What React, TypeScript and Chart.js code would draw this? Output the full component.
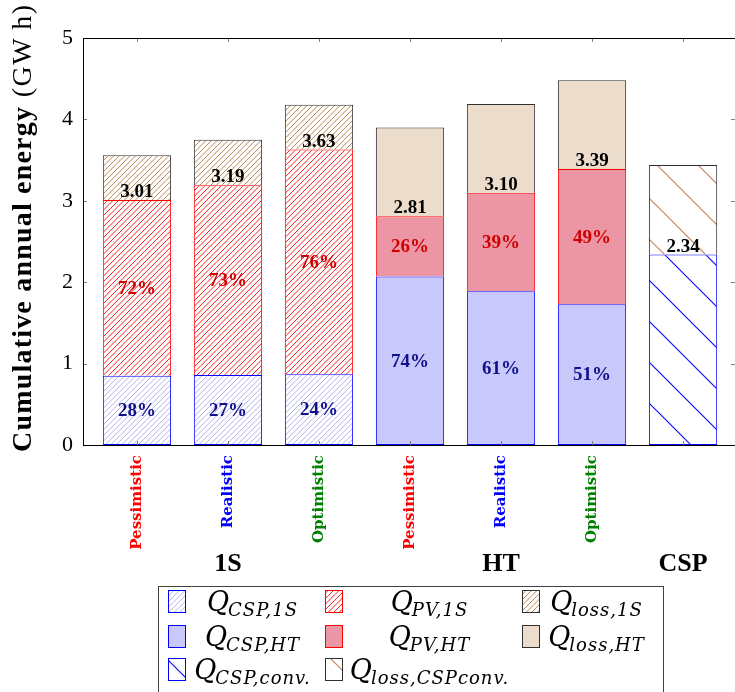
import React, { useEffect, useRef } from 'react';
import { Chart, registerables } from 'chart.js';

Chart.register(...registerables);

// ---------- data ----------
const categories = ['Pessimistic', 'Realistic', 'Optimistic', 'Pessimistic', 'Realistic', 'Optimistic', ''];
const tickColors = ['#ff0000', '#0000ff', '#008000', '#ff0000', '#0000ff', '#008000', '#000000'];
const groupLabels = ['1S', 'HT', 'CSP'];
const groupAt = [1, 4, 6];

const qCsp1S = [0.85, 0.86, 0.87, null, null, null, null];
const qPv1S = [2.16, 2.33, 2.76, null, null, null, null];
const qLoss1S = [0.55, 0.56, 0.55, null, null, null, null];
const qCspHT = [null, null, null, 2.07, 1.89, 1.73, null];
const qPvHT = [null, null, null, 0.74, 1.21, 1.66, null];
const qLossHT = [null, null, null, 1.09, 1.09, 1.09, null];
const qCspConv = [null, null, null, null, null, null, 2.34];
const qLossConv = [null, null, null, null, null, null, 1.1];

const cspShare = ['28%', '27%', '24%', '74%', '61%', '51%', null];
const pvShare = ['72%', '73%', '76%', '26%', '39%', '49%', null];
const totals = [3.01, 3.19, 3.63, 2.81, 3.1, 3.39, 2.34];

const yTicks = [0, 1, 2, 3, 4, 5];
const yTitleBold = 'Cumulative annual energy';
const yTitleUnit = ' (GW\u2009h)';

const legendSubs = ['CSP,1S', 'PV,1S', 'loss,1S', 'CSP,HT', 'PV,HT', 'loss,HT', 'CSP,conv.', 'loss,CSPconv.'];

// ---------- patterns ----------
function hatch(color: string, spacing: number, tile: number, dir: '/' | '\\', lw: number): CanvasPattern | string {
  const c = document.createElement('canvas');
  c.width = tile;
  c.height = tile;
  const g = c.getContext('2d');
  if (!g) return color;
  g.fillStyle = '#ffffff';
  g.fillRect(0, 0, tile, tile);
  g.strokeStyle = color;
  g.lineWidth = lw;
  g.beginPath();
  for (let k = -tile; k <= 2 * tile; k += spacing) {
    if (dir === '/') {
      g.moveTo(k + 2, -2);
      g.lineTo(k - tile - 2, tile + 2);
    } else {
      g.moveTo(k - 2, -2);
      g.lineTo(k + tile + 2, tile + 2);
    }
  }
  g.stroke();
  const p = g.createPattern(c, 'repeat');
  return p || color;
}

function toPoints(arr: (number | null)[]) {
  const out: { x: number; y: number }[] = [];
  arr.forEach((v, i) => {
    if (v !== null) out.push({ x: i, y: v });
  });
  return out;
}

function findEl(chart: any, dsIdx: number[], i: number) {
  for (const d of dsIdx) {
    const meta = chart.getDatasetMeta(d);
    const data = chart.data.datasets[d].data as any[];
    for (let j = 0; j < data.length; j++) {
      if (data[j].x === i) return meta.data[j];
    }
  }
  return null;
}

function drawMath(ctx: CanvasRenderingContext2D, cx: number, y: number, label: string) {
  const m = label.match(/^(.)_\{(.*)\}$/);
  const main = m ? m[1] : label;
  const sub = m ? m[2] : '';
  const mainFont = 'italic 27px "DejaVu Serif"';
  const subFont = 'italic 18px "DejaVu Serif"';
  ctx.save();
  (ctx as any).letterSpacing = '0px';
  ctx.font = mainFont;
  const w1 = ctx.measureText(main).width;
  (ctx as any).letterSpacing = '1px';
  ctx.font = subFont;
  const w2 = ctx.measureText(sub).width;
  const x0 = cx - (w1 + w2) / 2;
  ctx.fillStyle = '#000';
  ctx.textAlign = 'left';
  ctx.textBaseline = 'alphabetic';
  (ctx as any).letterSpacing = '0px';
  ctx.font = mainFont;
  ctx.fillText(main, x0, y);
  (ctx as any).letterSpacing = '1px';
  ctx.font = subFont;
  ctx.fillText(sub, x0 + w1 - 1, y + 5);
  ctx.restore();
}

const decorPlugin = {
  id: 'decor',
  afterDraw(chart: any) {
    const ctx: CanvasRenderingContext2D = chart.ctx;
    const { left, right, top, bottom } = chart.chartArea;
    const xs = chart.scales.x;
    const ys = chart.scales.y;

    // tick marks (inward)
    ctx.save();
    ctx.strokeStyle = '#808080';
    ctx.lineWidth = 1;
    ctx.beginPath();
    categories.forEach((_, i) => {
      const px = Math.round(xs.getPixelForValue(i)) + 0.5;
      ctx.moveTo(px, bottom);
      ctx.lineTo(px, bottom - 4);
      ctx.moveTo(px, top);
      ctx.lineTo(px, top + 4);
    });
    yTicks.forEach((v) => {
      const py = Math.round(ys.getPixelForValue(v)) + 0.5;
      ctx.moveTo(left, py);
      ctx.lineTo(left + 4, py);
      ctx.moveTo(right, py);
      ctx.lineTo(right - 4, py);
    });
    ctx.stroke();
    ctx.restore();

    // frame
    ctx.save();
    ctx.strokeStyle = '#000';
    ctx.lineWidth = 1;
    ctx.strokeRect(left + 0.5, top + 0.5, right - left, bottom - top);
    ctx.restore();

    // data labels
    ctx.save();
    ctx.textAlign = 'center';
    ctx.font = 'bold 19px "Liberation Serif"';
    categories.forEach((_, i) => {
      const cEl = findEl(chart, [0, 3, 6], i);
      const pEl = findEl(chart, [1, 4], i);
      if (cEl && cspShare[i]) {
        ctx.fillStyle = '#10108c';
        ctx.textBaseline = 'middle';
        ctx.fillText(cspShare[i] as string, cEl.x, (cEl.y + cEl.base) / 2 + 1);
      }
      if (pEl && pvShare[i]) {
        ctx.fillStyle = '#d00000';
        ctx.textBaseline = 'middle';
        ctx.fillText(pvShare[i] as string, pEl.x, (pEl.y + pEl.base) / 2 + 1);
      }
      const tEl = pEl || cEl;
      if (tEl) {
        ctx.fillStyle = '#000';
        ctx.textBaseline = 'alphabetic';
        ctx.fillText(totals[i].toFixed(2), tEl.x, tEl.y - 3);
      }
    });
    ctx.restore();

    // group labels
    ctx.save();
    ctx.fillStyle = '#000';
    ctx.textAlign = 'center';
    ctx.textBaseline = 'alphabetic';
    ctx.font = 'bold 26px "Liberation Serif"';
    groupLabels.forEach((g, k) => {
      ctx.fillText(g, xs.getPixelForValue(groupAt[k]), 571);
    });
    ctx.restore();

    // y title
    ctx.save();
    ctx.translate(31, 452);
    ctx.rotate(-Math.PI / 2);
    ctx.fillStyle = '#000';
    ctx.textAlign = 'left';
    ctx.textBaseline = 'alphabetic';
    (ctx as any).letterSpacing = '1.2px';
    ctx.font = 'bold 28px "Liberation Serif"';
    const bw = ctx.measureText(yTitleBold).width;
    ctx.fillText(yTitleBold, 0, 0);
    (ctx as any).letterSpacing = '1.5px';
    ctx.font = '28px "Liberation Serif"';
    ctx.fillText(yTitleUnit, bw, 0);
    ctx.restore();

    // legend
    ctx.save();
    ctx.strokeStyle = '#404040';
    ctx.lineWidth = 1;
    ctx.strokeRect(158.5, 586.5, 505, 120);
    const colSw = [168, 325, 522];
    const colCenter = [253, 430, 597];
    const rowTop = [590, 625, 658];
    chart.data.datasets.forEach((ds: any, k: number) => {
      const r = Math.floor(k / 3);
      const c = k % 3;
      const sx = colSw[c] + 0.5;
      const sy = rowTop[r] + 0.5;
      ctx.fillStyle = ds.backgroundColor;
      ctx.fillRect(sx, sy, 17, 22);
      ctx.strokeStyle = ds.borderColor;
      ctx.lineWidth = 1;
      ctx.strokeRect(sx, sy, 17, 22);
      drawMath(ctx, colCenter[c], rowTop[r] + 21, ds.label);
    });
    ctx.restore();
  },
};

export default function App() {
  const ref = useRef<HTMLCanvasElement | null>(null);
  useEffect(() => {
    if (!ref.current) return;
    const blue = '#0000ff';
    const red = '#ff0000';
    const dark = '#303030';
    const fills = [
      hatch('#b4b4ee', 5.5, 11, '/', 1),
      hatch('#ff2020', 5.5, 11, '/', 1),
      hatch('#b8864e', 5.5, 11, '/', 1),
      '#c8c8fa',
      '#ec95a5',
      '#ebdccb',
      hatch('#1010ff', 41, 41, '\\', 1.2),
      hatch('#c8845a', 41, 41, '\\', 1.2),
    ];
    const borders = [blue, red, dark, blue, red, dark, blue, dark];
    // lower segment's top edge is the visible boundary line
    const skipped: any[] = [false, 'start', 'start', false, 'start', 'start', false, 'start'];
    const series = [qCsp1S, qPv1S, qLoss1S, qCspHT, qPvHT, qLossHT, qCspConv, qLossConv];
    const chart = new Chart(ref.current, {
      type: 'bar',
      data: {
        datasets: series.map((s, k) => ({
          label: `Q_{${legendSubs[k]}}`,
          data: toPoints(s),
          backgroundColor: fills[k] as any,
          borderColor: borders[k],
          borderWidth: 1,
          borderSkipped: skipped[k],
          inflateAmount: 0,
          barPercentage: 0.75,
          categoryPercentage: 1,
        })),
      },
      options: {
        animation: false,
        responsive: false,
        layout: { padding: { top: 38, left: 0, right: 0, bottom: 0 } },
        plugins: { legend: { display: false }, tooltip: { enabled: false } },
        scales: {
          x: {
            type: 'linear',
            offset: false,
            min: -0.593,
            max: 6.571,
            stacked: true,
            grid: { display: false, drawTicks: false, offset: false },
            border: { display: false },
            afterBuildTicks: (s: any) => {
              s.ticks = categories.map((_, i) => ({ value: i }));
            },
            afterFit: (s: any) => {
              s.height = 247;
            },
            ticks: {
              autoSkip: false,
              maxRotation: 90,
              minRotation: 90,
              padding: 10,
              color: (c: any) => tickColors[c.index] || '#000',
              font: { family: '"DejaVu Serif"', weight: 'bold', size: 15 },
              callback: (v: any) => categories[Math.round(Number(v))] ?? '',
            },
          },
          y: {
            min: 0,
            max: 5,
            stacked: true,
            grid: { display: false, drawTicks: false },
            border: { display: false },
            afterFit: (s: any) => {
              s.width = 83;
            },
            ticks: {
              stepSize: 1,
              padding: 10,
              color: '#000',
              font: { family: '"Liberation Serif"', size: 22 },
            },
          },
        },
      } as any,
      plugins: [decorPlugin],
    });
    return () => chart.destroy();
  }, []);
  return (
    <div style={{ position: 'fixed', left: 0, top: 0, width: 735, height: 692, background: '#fff' }}>
      <canvas ref={ref} width={735} height={692} style={{ display: 'block' }} />
    </div>
  );
}
